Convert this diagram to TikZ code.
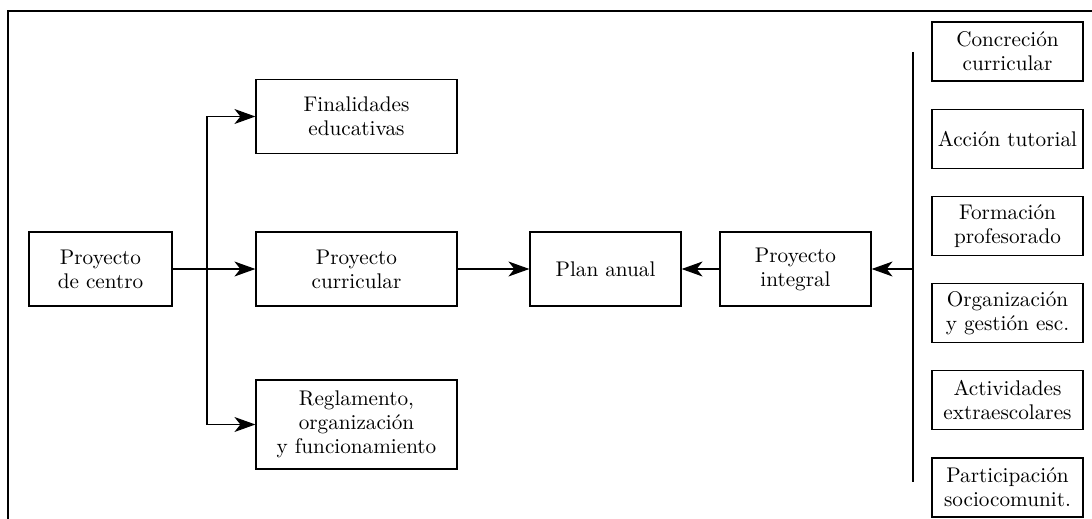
\documentclass[tikz,border=0pt]{standalone}
\usetikzlibrary{
  arrows.meta,
  positioning
}

\begin{document}
\begin{tikzpicture}[x=0.5pt,y=-0.5pt,
    caja/.style={draw,line width=0.6pt,align=center,inner sep=2pt,
      font=\fontsize{10.6}{12}\selectfont},
    grande/.style={caja,minimum width=100.5pt,minimum height=37pt},
    lateral/.style={caja,minimum width=75.5pt,minimum height=29.5pt},
    flecha/.style={line width=0.6pt,-{Stealth[length=10.5pt,width=7.5pt,inset=3pt]}}]
    %marco
    \useasboundingbox (0,0) rectangle (1092,519);
    \draw[line width=1pt] (1094,11) -- (8,11) -- (8,521);
    %cajas
    \node[caja,minimum width=71.5pt,minimum height=37pt] (centro) at (100.5,269) {Proyecto\\de centro};
    \node[grande] (finalidades) at (356.5,116.5) {Finalidades\\educativas};
    \node[grande] (curricular) at (356.5,269) {Proyecto\\curricular};
    \node[grande,minimum height=44.5pt] (reglamento) at (356.5,424.5) {Reglamento,\\organizaci\'on\\y funcionamiento};
    \node[caja,minimum width=75.5pt,minimum height=37pt] (plan) at (605.5,269) {Plan anual};
    \node[caja,minimum width=75.5pt,minimum height=37pt] (integral) at (795.5,269) {Proyecto\\integral};
    %columna derecha
    \node[lateral] (concrecion) at (1007.5,51.5) {Concreci\'on\\curricular};
    \node[lateral,below=13.5pt of concrecion] (tutorial) {Acci\'on tutorial};
    \node[lateral,below=13.5pt of tutorial] (formacion) {Formaci\'on\\profesorado};
    \node[lateral,below=13.5pt of formacion] (gestion) {Organizaci\'on\\y gesti\'on esc.};
    \node[lateral,below=13.5pt of gestion] (extraescolares) {Actividades\\extraescolares};
    \node[lateral,below=13.5pt of extraescolares] (participacion) {Participaci\'on\\sociocomunit.};
    %conexiones
    \coordinate (rama) at (207,269);
    \coordinate (barra) at (913,269);
    \coordinate (barraarriba) at (913,52);
    \coordinate (barraabajo) at (913,482);
    \draw[line width=0.6pt] (rama |- finalidades) -- (rama |- reglamento);
    \draw[flecha] (rama |- finalidades) -- (finalidades);
    \draw[flecha] (rama |- reglamento) -- (reglamento);
    \draw[flecha] (centro) -- (curricular);
    \draw[flecha] (curricular) -- (plan);
    \draw[flecha] (integral) -- (plan);
    \draw[line width=0.6pt] (barraarriba) -- (barraabajo);
    \draw[flecha] (barra) -- (integral);
\end{tikzpicture}
\end{document}
